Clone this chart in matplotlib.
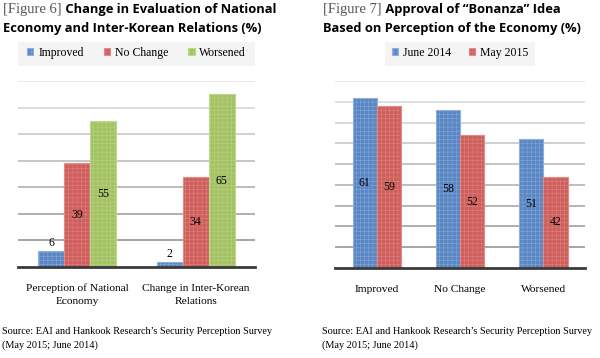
import numpy as np
import matplotlib.pyplot as plt
from matplotlib.patches import Rectangle

# Figure 6 data
fig6_categories = ["Perception of National\nEconomy", "Change in Inter-Korean\nRelations"]
fig6_improved = [6, 2]
fig6_no_change = [39, 34]
fig6_worsened = [55, 65]

# Figure 7 data
fig7_categories = ["Improved", "No Change", "Worsened"]
fig7_june_2014 = [61, 58, 51]
fig7_may_2015 = [59, 52, 42]

BLUE, BLUE_EDGE = "#5a86c4", "#8eafdb"
RED, RED_EDGE = "#cf5f5c", "#e08b89"
GREEN, GREEN_EDGE = "#a2c263", "#bfd68d"

SERIF = "Liberation Serif"
BOLD_SANS = "Open Sans"

plt.rcParams["hatch.linewidth"] = 0.3

fig = plt.figure(figsize=(6.0, 3.58), dpi=100)


def draw_title(x, y, prefix, lines):
    # serif "[Figure n]" followed by the bold sans title
    t1 = fig.text(x, y, prefix, fontsize=10.5, family=SERIF, color="#555555",
                  va="baseline", ha="left")
    fig.add_artist(plt.Annotation(" " + lines[0], xy=(1, 0), xycoords=t1,
                                  va="bottom", ha="left", fontsize=9.3,
                                  family=BOLD_SANS, weight="bold", color="black"))
    fig.text(x, y - 19 / 358, lines[1], fontsize=9.3, family=BOLD_SANS,
             weight="bold", color="black", va="baseline", ha="left")


def grid_lines(ax, levels):
    grays = np.linspace(0.62, 0.9, len(levels))
    for lv, g in zip(levels, grays):
        ax.axhline(lv, color=str(g), linewidth=1.3, zorder=0)


def style_axes(ax):
    for s in ["top", "right", "left"]:
        ax.spines[s].set_visible(False)
    ax.spines["bottom"].set_color("#3a3a3a")
    ax.spines["bottom"].set_linewidth(2)
    ax.set_yticks([])
    ax.tick_params(axis="x", length=0, pad=12)
    for lab in ax.get_xticklabels():
        lab.set_family(SERIF)
        lab.set_fontsize(8.2)
        lab.set_linespacing(1.55)


def legend_band(ax, x0, x1):
    ax.add_patch(Rectangle((x0, 1.08), x1 - x0, 0.13, transform=ax.transAxes,
                           facecolor="#f4f4f4", edgecolor="none", clip_on=False, zorder=0))


# ---------- Figure 6 ----------
ax1 = fig.add_axes([18 / 600, 91 / 358, 237 / 600, 186 / 358])
x1 = np.arange(len(fig6_categories))
w1 = 0.22
series6 = [(fig6_improved, "Improved", BLUE, BLUE_EDGE, -w1),
           (fig6_no_change, "No Change", RED, RED_EDGE, 0),
           (fig6_worsened, "Worsened", GREEN, GREEN_EDGE, w1)]
for vals, name, fc, ec, off in series6:
    bars = ax1.bar(x1 + off, vals, w1, color=fc, edgecolor=ec, linewidth=0.8,
                   hatch="++++", label=name, zorder=2)
    for b, v in zip(bars, vals):
        cx = b.get_x() + b.get_width() / 2
        ypos = v + 3 if v < 10 else v / 2
        ax1.text(cx, ypos, str(v), ha="center", va="center",
                 family=SERIF, fontsize=8.5, zorder=3)
ax1.set_xlim(-0.5, 1.5)
ax1.set_ylim(0, 70)
grid_lines(ax1, [10, 20, 30, 40, 50, 60, 70])
ax1.set_xticks(x1)
ax1.set_xticklabels(fig6_categories)
style_axes(ax1)
legend_band(ax1, 0.0, 1.0)
ax1.legend(loc="center", bbox_to_anchor=(0.5, 1.15), ncol=3, frameon=False,
           handlelength=0.55, handleheight=0.55, handletextpad=0.4,
           columnspacing=1.7, prop={"family": SERIF, "size": 8.5})

# ---------- Figure 7 ----------
ax2 = fig.add_axes([335 / 600, 90 / 358, 250 / 600, 187 / 358])
x2 = np.arange(len(fig7_categories))
w2 = 0.29
series7 = [(fig7_june_2014, "June 2014", BLUE, BLUE_EDGE, -w2 / 2),
           (fig7_may_2015, "May 2015", RED, RED_EDGE, w2 / 2)]
base = 20
for vals, name, fc, ec, off in series7:
    bars = ax2.bar(x2 + off, np.array(vals) - base, w2, bottom=base, color=fc,
                   edgecolor=ec, linewidth=0.8, hatch="++++", label=name, zorder=2)
    for b, v in zip(bars, vals):
        cx = b.get_x() + b.get_width() / 2
        ax2.text(cx, (v + base) / 2, str(v), ha="center", va="center",
                 family=SERIF, fontsize=8.5, zorder=3)
ax2.set_xlim(-0.5, 2.5)
ax2.set_ylim(base, 65)
grid_lines(ax2, [25, 30, 35, 40, 45, 50, 55, 60, 65])
ax2.set_xticks(x2)
ax2.set_xticklabels(fig7_categories)
style_axes(ax2)
legend_band(ax2, 50 / 250, 200 / 250)
ax2.legend(loc="center", bbox_to_anchor=(0.5, 1.15), ncol=2, frameon=False,
           handlelength=0.55, handleheight=0.55, handletextpad=0.4,
           columnspacing=1.5, prop={"family": SERIF, "size": 8.5})

# ---------- Titles ----------
draw_title(3 / 600, 1 - 13 / 358, "[Figure 6]",
           ["Change in Evaluation of National", "Economy and Inter-Korean Relations (%)"])
draw_title(323 / 600, 1 - 13 / 358, "[Figure 7]",
           ["Approval of \u201cBonanza\u201d Idea", "Based on Perception of the Economy (%)"])

# ---------- Sources ----------
src = "Source: EAI and Hankook Research\u2019s Security Perception Survey\n(May 2015; June 2014)"
fig.text(2 / 600, 1 - 327 / 358, src, family=SERIF, fontsize=7.4, va="top",
         ha="left", linespacing=1.65)
fig.text(322 / 600, 1 - 327 / 358, src, family=SERIF, fontsize=7.4, va="top",
         ha="left", linespacing=1.65)

fig.savefig("out.png", dpi=100)
